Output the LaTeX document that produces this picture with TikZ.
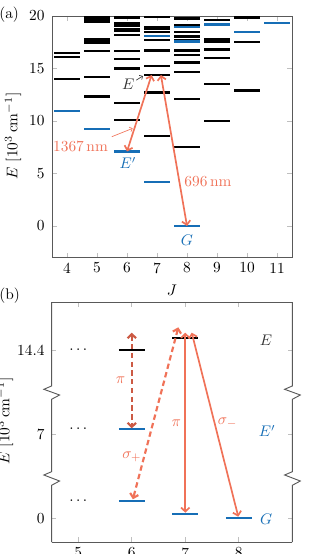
\documentclass[tikz,border=0pt]{standalone}
\usepackage{xcolor}
\usetikzlibrary{arrows.meta}
\usetikzlibrary{math}
\definecolor{myblue}{RGB}{22,110,182}
\definecolor{mycoral}{RGB}{240,114,88}
\definecolor{mybrick}{RGB}{204,90,68}

\begin{document}
\begin{tikzpicture}[x=0.65pt,y=-0.65pt,
  >={Straight Barb[length=2.6pt,width=5.5pt]},
  ax/.style={draw=black!65,line width=0.6pt},
  tck/.style={black!25,line width=0.5pt},
  lev/.style={line width=1.5pt},
  tr/.style={mycoral,line width=1.1pt,<->},
  dtr/.style={line width=1.4pt,dash pattern=on 3.5pt off 2.2pt,<->}]
\tikzmath{
\w=0.42;%half width of levels (a)
\wb=0.243;%half width of levels (b)
}
\useasboundingbox (0,0) rectangle (309,554);

\node[anchor=west,inner sep=0pt] (la) at (-1,15) {(a)};
\node[anchor=west,inner sep=0pt] (lb) at (-1,296) {(b)};

%panel (a)
\begin{scope}[shift={(-53,226)},x=19.5pt,y=6.825pt]
\foreach \j in {4,...,11}{
  \draw[tck] (\j,-3) -- ++(0,3pt);
  \draw[tck] (\j,20) -- ++(0,-3pt);
  \node (xa\j) at (\j,-4) {\j};
}
\foreach \e in {0,5,...,20}{
  \draw[tck] (3.5,\e) -- ++(3pt,0);
  \draw[tck] (11.5,\e) -- ++(-3pt,0);
  \node[anchor=east] (ya\e) at (3.43,\e) {\e};
}
\draw[ax] (3.5,-3) rectangle (11.5,20);
\node (lJa) at (7.5,-6.1) {$J$};
\node[rotate=90] (lya) at (2.2,8.57) {$E$ [$10^3\,$cm$^{-1}$]};

%levels
\foreach \j/\e in {4/16.45,4/16.1,4/14.0,
  5/19.87,5/19.62,5/19.4,5/17.8,5/17.6,5/17.4,5/16.67,5/14.16,5/12.32,
  6/19.87,6/19.3,6/19.1,6/18.73,6/18.54,6/18.22,6/16.64,6/15.9,6/15.0,6/11.7,6/10.1,
  7/19.9,7/18.95,7/18.73,7/18.48,7/17.7,7/16.7,7/15.24,7/14.38,7/12.7,7/8.55,
  8/19.75,8/19.1,8/18.48,8/18.05,8/17.72,8/16.7,8/16.27,8/15.56,8/14.65,8/12.1,8/7.55,
  9/19.6,9/17.75,9/17.5,9/16.8,9/16.0,9/13.5,9/10.0,
  10/19.87,10/17.5,10/12.9}
  \draw[lev] (\j-\w,\e) -- (\j+\w,\e);
\foreach \j/\e in {4/10.95,5/9.24,6/7.1,7/18.1,7/4.16,8/18.93,8/17.57,8/0,
  9/19.2,10/18.45,11/19.33}
  \draw[lev,myblue] (\j-\w,\e) -- (\j+\w,\e);

%transitions
\coordinate (Ep) at (6,7.1);
\coordinate (Ea) at (6.82,14.38);
\coordinate (Eb) at (7.13,14.38);
\coordinate (Gr) at (8,0);
\draw[tr] (Ea) -- (Ep);
\draw[tr] (Eb) -- (Gr);

%labels
\node[mycoral] (nm1) at (4.45,7.62) {1367\,nm};
\coordinate (P1) at (6.19,9.3);
\draw[mycoral,line width=0.4pt,-{Straight Barb[length=1.6pt,width=3.2pt]}] ([shift={(-1pt,-1pt)}]nm1.north east) -- (P1);
\node[mycoral] (nm2) at (8.7,4.19) {696\,nm};
\node[black!80,inner sep=1pt] (lE) at (6.04,13.5) {$E$};
\coordinate (P2) at (6.53,14.29);
\draw[black!80,line width=0.4pt,-{Straight Barb[length=1.6pt,width=3.2pt]}] ([yshift=-2pt]lE.north east) -- (P2);
\node[myblue] (lEp) at (6.03,6.0) {$E'$};
\node[myblue] (lG) at (8,-1.33) {$G$};
\end{scope}

%panel (b)
\begin{scope}[shift={(-189.2,0)},x=34.775pt]
\foreach \j in {5,...,8}{
  \draw[tck] (\j,542) -- ++(0,3pt);
  \draw[tck] (\j,302) -- ++(0,-3pt);
  \node (xb\j) at (\j,553) {\j};
}
\foreach \yy/\lab in {350/14.4,434/7,518.3/0}{
  \draw[tck] (4.5,\yy) -- ++(3pt,0);
  \draw[tck] (9,\yy) -- ++(-3pt,0);
  \node[anchor=east] (yb\yy) at (4.471,\yy) {\lab};
}
\draw[ax] (4.5,302) -- (9,302);
\draw[ax] (4.5,542) -- (9,542);
%broken axes
\foreach \xa in {4.5,9}
  \draw[ax] (\xa,302) -- (\xa,386) -- (\xa-0.144,389.3) -- (\xa+0.15,395) -- (\xa,399.3)
    -- (\xa,471.7) -- (\xa-0.144,475) -- (\xa+0.15,481) -- (\xa,485.3) -- (\xa,542);
\node[rotate=90] (lyb) at (3.63,421) {$E$ [$10^3\,$cm$^{-1}$]};

%levels
\draw[lev] (6-\wb,350) -- (6+\wb,350);
\draw[lev] (7-\wb,337.7) -- (7+\wb,337.7);
\foreach \j/\yy in {6/429,6/501,7/514.3,8/518.3}
  \draw[lev,myblue] (\j-\wb,\yy) -- (\j+\wb,\yy);
\foreach \yy in {350,429,501}
  \node (dt\yy) at (5,\yy) {$\cdots$};
\node[black!80] (lEb) at (8.51,340) {$E$};
\node[myblue] (lEpb) at (8.53,431) {$E'$};
\node[myblue] (lGb) at (8.51,519) {$G$};

%transitions
\coordinate (Ta) at (6,332.7);
\coordinate (Tb) at (6,428.3);
\coordinate (Sa) at (6.02,499.3);
\coordinate (Sb) at (6.87,327.3);
\coordinate (Pa) at (7,332.7);
\coordinate (Pb) at (7,512.7);
\coordinate (Ma) at (7.12,332.7);
\coordinate (Mb) at (7.99,516.7);
\draw[dtr,mybrick] (Ta) -- (Tb);
\draw[dtr,mycoral] (Sb) -- (Sa);
\draw[tr] (Pa) -- (Pb);
\draw[tr] (Ma) -- (Mb);
\node[mycoral] (lpi1) at (5.79,380) {$\pi$};
\node[mycoral] (lsp) at (6.0,456.7) {$\sigma_+$};
\node[mycoral] (lpi2) at (6.83,422.7) {$\pi$};
\node[mycoral] (lsm) at (7.79,422.7) {$\sigma_-$};
\end{scope}
\end{tikzpicture}
\end{document}
